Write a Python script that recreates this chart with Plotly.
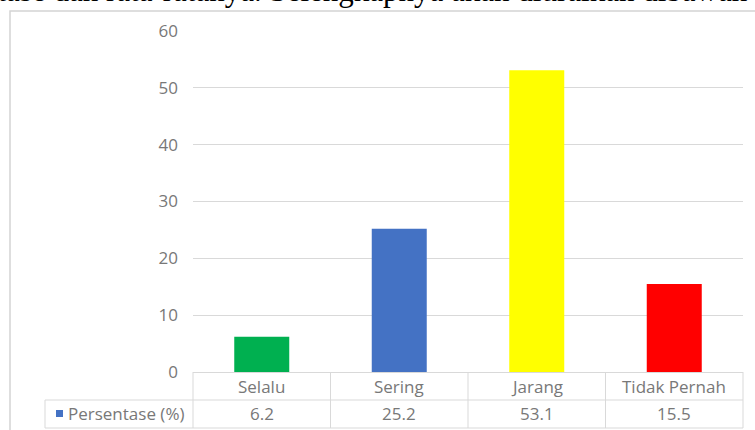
import plotly.graph_objects as go

categories = ["Selalu", "Sering", "Jarang", "Tidak Pernah"]
values = [6.2, 25.2, 53.1, 15.5]
value_labels = ["6.2", "25.2", "53.1", "15.5"]
bar_colors = ["#00B050", "#4472C4", "#FFFF00", "#FF0000"]
series_name = "Persentase (%)"
y_ticks = [0, 10, 20, 30, 40, 50, 60]
top_text = "ntase dan rata-ratanya. Selengkapnya akan diuraikan dibawah"

W, H = 755, 430
L, R, T, B = 193, 743, 31, 372


def px(x):
    return (x - L) / (R - L)


def py(y):
    return (B - y) / (B - T)


GRAY = "#787878"
LINE = "#D9D9D9"
FONT = "Open Sans"
FS = 17

fig = go.Figure()
fig.add_trace(go.Bar(
    x=categories, y=values, width=0.4,
    marker=dict(color=bar_colors, line=dict(width=0)),
    name=series_name, showlegend=False, hoverinfo="x+y",
))

shapes = []
# outer chart border
shapes.append(dict(type="rect", xref="paper", yref="paper",
                   x0=px(10), x1=px(770), y0=py(11), y1=py(445),
                   line=dict(color="#D4D4D4", width=1.5), layer="below"))
# data table lines
col_edges = [L + i * (R - L) / len(categories) for i in range(len(categories) + 1)]
for xe in col_edges:
    shapes.append(dict(type="line", xref="paper", yref="paper",
                       x0=px(xe), x1=px(xe), y0=py(372), y1=py(428),
                       line=dict(color=LINE, width=1)))
shapes.append(dict(type="line", xref="paper", yref="paper",
                   x0=px(45), x1=px(R), y0=py(400), y1=py(400),
                   line=dict(color=LINE, width=1)))
shapes.append(dict(type="line", xref="paper", yref="paper",
                   x0=px(45), x1=px(R), y0=py(428), y1=py(428),
                   line=dict(color=LINE, width=1)))
shapes.append(dict(type="line", xref="paper", yref="paper",
                   x0=px(45), x1=px(45), y0=py(400), y1=py(428),
                   line=dict(color=LINE, width=1)))
# legend key
shapes.append(dict(type="rect", xref="paper", yref="paper",
                   x0=px(56), x1=px(63), y0=py(410), y1=py(417),
                   fillcolor="#4472C4", line=dict(width=0)))

annotations = []
for c, v in zip(categories, value_labels):
    annotations.append(dict(x=c, xref="x", y=py(386), yref="paper", text=c,
                            showarrow=False, font=dict(family=FONT, size=FS, color=GRAY),
                            xanchor="center", yanchor="middle"))
    annotations.append(dict(x=c, xref="x", y=py(414), yref="paper", text=v,
                            showarrow=False, font=dict(family=FONT, size=FS, color=GRAY),
                            xanchor="center", yanchor="middle"))
annotations.append(dict(x=px(66), xref="paper", y=py(414), yref="paper", text=series_name,
                        showarrow=False, font=dict(family=FONT, size=FS, color=GRAY),
                        xanchor="left", yanchor="middle"))
annotations.append(dict(x=px(-20), xref="paper", y=py(-10), yref="paper", text=top_text,
                        showarrow=False, font=dict(family="Liberation Serif", size=31, color="black"),
                        xanchor="left", yanchor="middle"))

fig.update_layout(
    width=W, height=H,
    margin=dict(l=L, r=W - R, t=T, b=H - B, pad=0),
    paper_bgcolor="white", plot_bgcolor="white",
    bargap=0.6,
    xaxis=dict(showticklabels=False, showgrid=False, zeroline=False, showline=False,
               ticks="", fixedrange=True),
    yaxis=dict(range=[0, 60], tickvals=y_ticks, showgrid=True, gridcolor=LINE, gridwidth=1,
               zeroline=True, zerolinecolor=LINE, zerolinewidth=1, showline=False, ticks="",
               ticklabelstandoff=14,
               tickfont=dict(family=FONT, size=FS, color=GRAY), fixedrange=True),
    shapes=shapes,
    annotations=annotations,
    showlegend=False,
)

fig.write_html("out.html")
